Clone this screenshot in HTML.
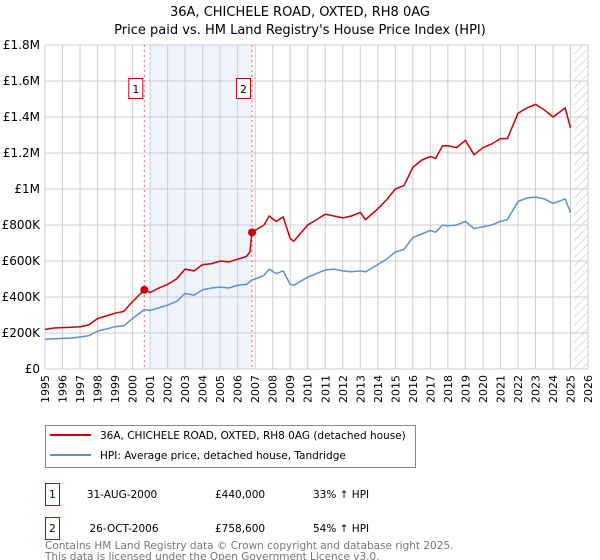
<!DOCTYPE html>
<html><head><meta charset="utf-8"><style>
body{margin:0;background:#fff;font-family:"DejaVu Sans","Liberation Sans",sans-serif;}
svg{display:block}
</style></head><body>
<svg id="chart" width="600" height="560" xmlns="http://www.w3.org/2000/svg" font-family="DejaVu Sans, Liberation Sans, sans-serif">
<text x="300" y="16" text-anchor="middle" font-size="13">36A, CHICHELE ROAD, OXTED, RH8 0AG</text>
<text x="300" y="34" text-anchor="middle" font-size="13">Price paid vs. HM Land Registry's House Price Index (HPI)</text>
<defs><pattern id="hatch" width="6" height="6" patternUnits="userSpaceOnUse" patternTransform="rotate(45)"><line x1="0" y1="0" x2="0" y2="6" stroke="#bbb" stroke-width="1"/></pattern></defs>
<g id="plot"></g>
<g>
<rect x="45.5" y="425.5" width="370" height="42" fill="#fff" stroke="#888"/>
<line x1="50" y1="435" x2="91" y2="435" stroke="#cc0000" stroke-width="2"/>
<text x="100" y="439" font-size="10.5">36A, CHICHELE ROAD, OXTED, RH8 0AG (detached house)</text>
<line x1="50" y1="455" x2="91" y2="455" stroke="#5b8fd6" stroke-width="2"/>
<text x="100" y="459" font-size="10.5">HPI: Average price, detached house, Tandridge</text>
</g>
<g font-size="10.5">
<rect x="45.5" y="483.5" width="14" height="22" fill="#fff" stroke="#cc0000"/>
<text x="52.5" y="498" text-anchor="middle">1</text>
<text x="122" y="498" text-anchor="middle">31-AUG-2000</text>
<text x="215" y="498">£440,000</text>
<text x="313" y="498">33% ↑ HPI</text>
<rect x="45.5" y="517.5" width="14" height="22" fill="#fff" stroke="#cc0000"/>
<text x="52.5" y="532" text-anchor="middle">2</text>
<text x="124" y="532" text-anchor="middle">26-OCT-2006</text>
<text x="215" y="532">£758,600</text>
<text x="313" y="532">54% ↑ HPI</text>
</g>
<text x="45" y="549" font-size="10.5" fill="#777">Contains HM Land Registry data © Crown copyright and database right 2025.</text>
<text x="45" y="560" font-size="10.5" fill="#777">This data is licensed under the Open Government Licence v3.0.</text>
</svg>
<script>
const hpiYears=[1995,1995.5,1996,1996.5,1997,1997.5,1998,1998.5,1999,1999.5,2000,2000.67,2001,2001.5,2002,2002.5,2003,2003.5,2004,2004.5,2005,2005.5,2006,2006.5,2006.82,2007,2007.5,2007.8,2008.2,2008.6,2009,2009.2,2010,2010.5,2011,2011.5,2012,2012.5,2013,2013.3,2014,2014.5,2015,2015.5,2016,2016.5,2017,2017.3,2017.7,2018,2018.5,2019,2019.5,2020,2020.5,2021,2021.4,2022,2022.5,2023,2023.5,2024,2024.7,2025];
const hpiValues=[165,168,170,172,178,185,210,222,235,240,280,330,325,340,355,375,420,410,440,450,455,450,465,470,495,500,520,555,530,545,470,465,510,530,550,555,545,540,545,540,580,610,650,665,730,750,770,760,800,795,800,820,780,790,800,820,830,930,950,955,945,920,945,870];
const propYears=[1995,1995.5,1996,1996.5,1997,1997.5,1998,1998.5,1999,1999.5,2000,2000.67,2001,2001.5,2002,2002.5,2003,2003.5,2004,2004.5,2005,2005.5,2006,2006.5,2006.7,2006.82,2007,2007.5,2007.8,2008.2,2008.6,2009,2009.2,2010,2010.5,2011,2011.5,2012,2012.5,2013,2013.3,2014,2014.5,2015,2015.5,2016,2016.5,2017,2017.3,2017.7,2018,2018.5,2019,2019.5,2020,2020.5,2021,2021.4,2022,2022.5,2023,2023.5,2024,2024.7,2025];
const propValues=[220,228,230,232,235,245,280,295,310,320,375,440,425,450,470,500,555,545,580,585,600,595,610,625,650,758,770,800,850,820,845,725,710,800,830,860,850,840,850,870,830,890,940,1000,1020,1120,1160,1180,1170,1240,1240,1230,1270,1190,1230,1250,1280,1280,1420,1450,1470,1440,1400,1450,1340];
const sales=[[2000.67,440],[2006.82,758.6]];
const saleLabels=["1","2"];
const yTicks=[0,200,400,600,800,1000,1200,1400,1600,1800];
const yTickLabels=["£0","£200K","£400K","£600K","£800K","£1M","£1.2M","£1.4M","£1.6M","£1.8M"];
const xTicks=[1995,1996,1997,1998,1999,2000,2001,2002,2003,2004,2005,2006,2007,2008,2009,2010,2011,2012,2013,2014,2015,2016,2017,2018,2019,2020,2021,2022,2023,2024,2025,2026];
const X0=45,X1=588,Y0=369,Y1=45;
const xs=v=>X0+(v-1995)/(2026-1995)*(X1-X0);
const ys=v=>Y0-v/1800*(Y0-Y1);
const NS="http://www.w3.org/2000/svg";
const g=document.getElementById('plot');
function mk(t,a){const e=document.createElementNS(NS,t);for(const k in a)e.setAttribute(k,a[k]);g.appendChild(e);return e;}
const shade=mk('rect',{x:xs(2001),y:Y1,width:xs(2006.82)-xs(2001),height:Y0-Y1,fill:'#eef3fc'});


const hat=mk('rect',{x:xs(2025.2),y:Y1,width:X1-xs(2025.2),height:Y0-Y1,fill:'url(#hatch)'});


xTicks.forEach(t=>{
 const l=mk('line',{x1:xs(t),x2:xs(t),y1:Y1,y2:Y0,stroke:'#ccc','stroke-width':1});
 
 
 const tx=mk('text',{x:0,y:0,'font-size':11,'text-anchor':'end',transform:`translate(${xs(t)+4},${Y0+6}) rotate(-90)`});
 tx.textContent=t;
 
 
});
yTicks.forEach((t,i)=>{
 const l=mk('line',{x1:X0,x2:X1,y1:ys(t),y2:ys(t),stroke:'#ccc','stroke-width':1});
 
 
 const tx=mk('text',{x:X0-5,y:ys(t)+4,'font-size':12,'text-anchor':'end'});
 tx.textContent=yTickLabels[i];
 
 
});
sales.forEach((s,i)=>{
 const l=mk('line',{x1:xs(s[0]),x2:xs(s[0]),y1:Y1,y2:Y0,stroke:'#e66','stroke-width':1,'stroke-dasharray':'2,3'});
 
 
 const r=mk('rect',{x:xs(s[0])-15.5,y:78.5,width:14,height:20,fill:'#fff',stroke:'#cc0000'});
 
 
 const tx=mk('text',{x:xs(s[0])-8.5,y:93,'font-size':11,'text-anchor':'middle'});
 tx.textContent=saleLabels[i];
 
 
});
const hp=mk('path',{d:hpiYears.map((y,i)=>(i?'L':'M')+xs(y).toFixed(1)+','+ys(hpiValues[i]).toFixed(1)).join(''),fill:'none',stroke:'#5b8fd6','stroke-width':1.5});


const pp=mk('path',{d:propYears.map((y,i)=>(i?'L':'M')+xs(y).toFixed(1)+','+ys(propValues[i]).toFixed(1)).join(''),fill:'none',stroke:'#cc0000','stroke-width':1.5});


sales.forEach(s=>{
 const c=mk('circle',{cx:xs(s[0]),cy:ys(s[1]),r:4,fill:'#cc0000'});
 
 
});
</script>
</body></html>
